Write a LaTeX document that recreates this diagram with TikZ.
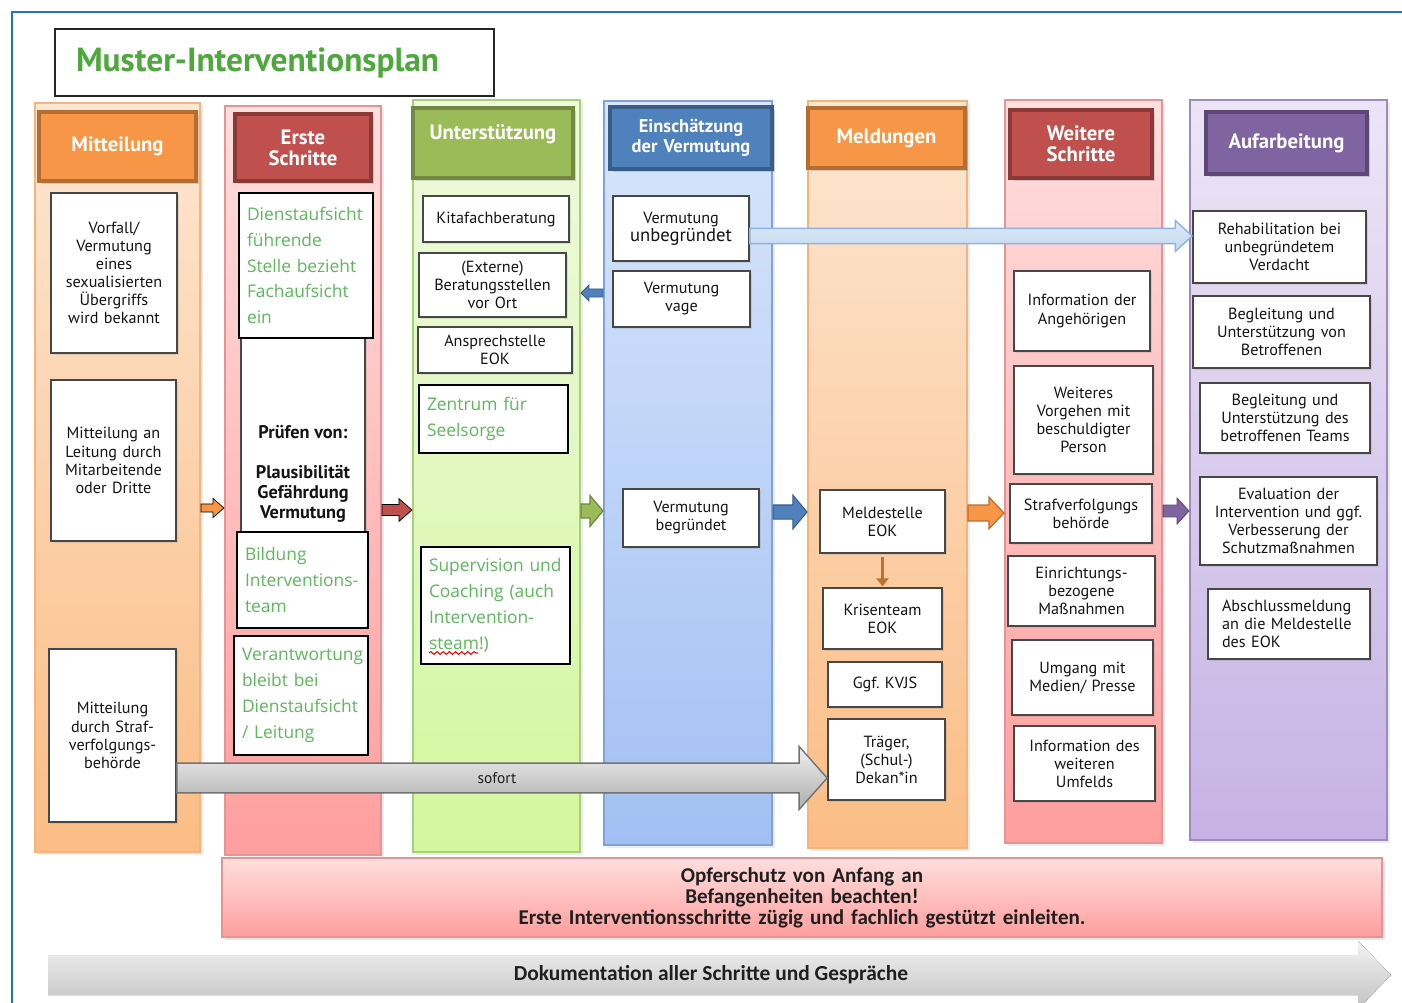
\documentclass[tikz,border=0pt]{standalone}
\usepackage{fontspec}
\setmainfont{PT Sans}
\newfontfamily\greenf{Open Sans}
\newfontfamily\calf{Carlito}
\usetikzlibrary{calc,shadows,decorations.pathmorphing,arrows.meta}

\definecolor{orH}{HTML}{F79646}\definecolor{orB}{HTML}{B66D31}
\definecolor{rdH}{HTML}{C0504D}\definecolor{rdB}{HTML}{8C3836}
\definecolor{gnH}{HTML}{9BBB59}\definecolor{gnB}{HTML}{71893F}
\definecolor{blH}{HTML}{4F81BD}\definecolor{blB}{HTML}{385D8A}
\definecolor{puH}{HTML}{8064A2}\definecolor{puB}{HTML}{5C4776}
\definecolor{orT}{HTML}{FDE6D2}\definecolor{orL}{HTML}{FBBD85}\definecolor{orD}{HTML}{F6B37C}
\definecolor{pkT}{HTML}{FFDEDE}\definecolor{pkL}{HTML}{FF9E9E}\definecolor{pkD}{HTML}{E49494}
\definecolor{gnT}{HTML}{EFF9DF}\definecolor{gnL}{HTML}{D3F79E}\definecolor{gnD}{HTML}{A9CF7A}
\definecolor{blT}{HTML}{D9E6FB}\definecolor{blL}{HTML}{A2C0F4}\definecolor{blD}{HTML}{7FA3D8}
\definecolor{puT}{HTML}{ECE5F6}\definecolor{puL}{HTML}{C6B2E4}\definecolor{puD}{HTML}{9E8BBE}
\definecolor{txtgreen}{HTML}{5DB85B}\definecolor{titlegreen}{HTML}{4EA83E}
\definecolor{frameblue}{HTML}{2472C4}
\definecolor{lbF}{HTML}{C6D9F1}\definecolor{lbT}{HTML}{DDE8F7}\definecolor{lbD}{HTML}{8EB4E3}

\def\insetcm{0.08}
\newcommand\mkbox[7][]{%
 \pgfmathsetmacro\mbw{(#5-#3)*0.02}%
 \pgfmathsetmacro\mbh{(#6-#4)*0.02}%
 \pgfmathsetmacro\mtw{(#5-#3)*0.02-2*\insetcm}%
 \node[minimum width=\mbw cm,minimum height=\mbh cm,text width=\mtw cm,
   inner xsep=\insetcm cm,inner ysep=0pt,#1] (#2) at ({(#3+#5)/2},{(#4+#6)/2}) {#7};}

% block arrow: style, from, to, half shaft, half head, head length (signed)
\newcommand\blockarrow[6]{%
 \draw[#1] let \p1=(#2), \p2=(#3) in
  ({\x1},{\y1+#4}) -- ({\x2-(#6)},{\y1+#4}) -- ({\x2-(#6)},{\y1+#5}) -- ({\x2},{\y1})
  -- ({\x2-(#6)},{\y1-#5}) -- ({\x2-(#6)},{\y1-#4}) -- ({\x1},{\y1-#4}) -- cycle;}

\begin{document}
\begin{tikzpicture}[x=0.02cm,y=-0.02cm,
  lane/.style args={#1/#2/#3}{top color=#1,bottom color=#2,draw=#3,line width=1.2pt,
     drop shadow={opacity=0.15,shadow xshift=1.5pt,shadow yshift=-1.5pt}},
  hdr/.style args={#1/#2}{fill=#1,draw=#2,line width=2pt,text=white,align=center,
     font=\bfseries\fontsize{11.8}{12}\selectfont,
     drop shadow={opacity=0.3,shadow xshift=1.5pt,shadow yshift=-1.5pt}},
  wbox/.style={fill=white,draw=black!72,line width=1pt,align=center,text=black!92,
     font=\fontsize{9.2}{10.3}\selectfont,
     drop shadow={opacity=0.2,shadow xshift=1pt,shadow yshift=-1pt}},
  gbox/.style={fill=white,draw=black,line width=1.4pt,align=left,text=txtgreen,
     font=\greenf\fontsize{9.9}{14.7}\selectfont},
  titlebox/.style={fill=white,draw=black!85,line width=1pt,align=left,text=titlegreen,
     font=\bfseries\fontsize{19}{22}\selectfont},
  opferbox/.style={top color=pkT,bottom color=pkL,draw=pkD,line width=1pt,align=center,
     font=\calf\bfseries\fontsize{12}{11.9}\selectfont,text=black!88,
     drop shadow={opacity=0.2,shadow xshift=1.5pt,shadow yshift=-1.5pt}}
]
\useasboundingbox (0,0) rectangle (1402,1003);
\clip (0,0) rectangle (1402,1003);
\fill[white] (0,0) rectangle (1402,1003);

% frame
\draw[frameblue,line width=1.3pt] (12,1003) -- (12,12) -- (1402,12);

% title
\mkbox[titlebox,text width=7.94cm]{title}{55}{29}{494}{96}{Muster-Interventionsplan}

% lanes
\mkbox[lane=orT/orL/orD]{lane1}{35}{103}{200}{852}{}
\mkbox[lane=pkT/pkL/pkD]{lane2}{225}{106}{381}{855}{}
\mkbox[lane=gnT/gnL/gnD]{lane3}{413}{100}{580}{852}{}
\mkbox[lane=blT/blL/blD]{lane4}{604}{101}{772}{845}{}
\mkbox[lane=orT/orL/orD]{lane5}{808}{101}{967}{848}{}
\mkbox[lane=pkT/pkL/pkD]{lane6}{1005}{100}{1162}{843}{}
\mkbox[lane=puT/puL/puD]{lane7}{1190}{100}{1387}{840}{}

% headers
\mkbox[hdr=orH/orB]{h1}{39}{112}{196}{181}{Mitteilung}
\mkbox[hdr=rdH/rdB]{h2}{235}{114}{371}{181}{Erste\\Schritte}
\mkbox[hdr=gnH/gnB]{h3}{413}{108}{573}{178}{Unterstützung\\\mbox{}}
\mkbox[hdr=blH/blB,font=\bfseries\fontsize{10.5}{11.6}\selectfont]{h4}{610}{107}{772}{169}{Einschätzung\\der Vermutung}
\mkbox[hdr=orH/orB]{h5}{808}{108}{965}{168}{Meldungen}
\mkbox[hdr=rdH/rdB]{h6}{1010}{110}{1152}{178}{Weitere\\Schritte}
\mkbox[hdr=puH/puB]{h7}{1206}{112}{1367}{174}{Aufarbeitung}

% column 1
\mkbox[wbox]{vorfall}{51}{193}{177}{353}{Vorfall/\\Vermutung\\eines\\sexualisierten\\Übergriffs\\wird bekannt}
\mkbox[wbox]{mitLeit}{51}{380}{176}{541}{Mitteilung an\\Leitung durch\\Mitarbeitende\\oder Dritte}
\mkbox[wbox]{strafM}{49}{649}{176}{822}{Mitteilung\\durch Straf-\\verfolgungs-\\behörde}

% column 2
\mkbox[wbox]{pruef}{241}{330}{365}{532}{}
\node[font=\bfseries\fontsize{10.4}{11.3}\selectfont,align=center,text=black!92] (pruefT) at (303,474)
  {Prüfen von:\\[11.3pt]Plausibilität\\Gefährdung\\Vermutung};
\def\insetcm{0.16}
\mkbox[gbox]{dienst}{239}{193}{373}{338}{Dienstaufsicht\\führende\\Stelle bezieht\\Fachaufsicht\\ein}
\mkbox[gbox]{bildung}{237}{532}{368}{628}{Bildung\\Interventions-\\team}
\mkbox[gbox]{verant}{234}{636}{368}{755}{Verantwortung\\bleibt bei\\Dienstaufsicht\\/ Leitung}
\def\insetcm{0.08}

% column 3
\mkbox[wbox]{kita}{423}{196}{569}{242}{Kitafachberatung}
\mkbox[wbox]{extern}{419}{253}{566}{317}{(Externe)\\Beratungsstellen\\vor Ort}
\mkbox[wbox]{anspr}{418}{327}{572}{373}{Ansprechstelle\\EOK}
\def\insetcm{0.16}
\mkbox[gbox]{zentrum}{419}{385}{568}{453}{Zentrum für\\Seelsorge}
\mkbox[gbox]{superv}{421}{547}{570}{664}{Supervision und\\Coaching (auch\\Intervention-\\steam!)}
\def\insetcm{0.08}
\draw[red,line width=0.6pt,decorate,decoration={snake,amplitude=0.8pt,segment length=3.5pt}]
  (429,653) -- (478,653);

% column 4
\mkbox[wbox]{unbeg}{613}{196}{749}{261}{Vermutung\\{\fontsize{10.6}{12}\selectfont unbegründet}}
\mkbox[wbox]{vage}{613}{271}{750}{327}{Vermutung\\vage}
\mkbox[wbox]{begr}{623}{489}{759}{547}{Vermutung\\begründet}

% column 5
\mkbox[wbox]{meld}{820}{490}{945}{553}{Meldestelle\\EOK}
\mkbox[wbox]{krise}{823}{588}{942}{649}{Krisenteam\\EOK}
\mkbox[wbox]{kvjs}{828}{662}{942}{707}{Ggf.\ KVJS}
\mkbox[wbox]{traeger}{828}{719}{945}{800}{Träger,\\(Schul-)\\Dekan*in}

% column 6
\mkbox[wbox]{angeh}{1014}{271}{1150}{351}{Information der\\Angehörigen}
\mkbox[wbox]{weiteres}{1014}{366}{1153}{474}{Weiteres\\Vorgehen mit\\beschuldigter\\Person}
\mkbox[wbox]{strafB}{1010}{484}{1152}{543}{Strafverfolgungs\\behörde}
\mkbox[wbox]{einr}{1008}{556}{1155}{626}{Einrichtungs-\\bezogene\\Maßnahmen}
\mkbox[wbox]{medien}{1012}{640}{1153}{715}{Umgang mit\\Medien/ Presse}
\mkbox[wbox]{umfeld}{1014}{726}{1155}{801}{Information des\\weiteren\\Umfelds}

% column 7
\mkbox[wbox]{rehab}{1193}{211}{1366}{283}{Rehabilitation bei\\unbegründetem\\Verdacht}
\mkbox[wbox]{betr}{1193}{296}{1370}{368}{Begleitung und\\Unterstützung von\\Betroffenen}
\mkbox[wbox]{team}{1200}{383}{1370}{453}{Begleitung und\\Unterstützung des\\betroffenen Teams}
\mkbox[wbox]{eval}{1200}{477}{1377}{565}{Evaluation der\\Intervention und ggf.\\Verbesserung der\\Schutzmaßnahmen}
\mkbox[wbox,align=left,text width=2.68cm]{abschl}{1208}{589}{1370}{659}{Abschlussmeldung\\an die Meldestelle\\des EOK}

% row coordinates for connectors
\coordinate (yA1) at (0,508);
\coordinate (yA2) at (0,510);
\coordinate (yA3) at (0,511);
\coordinate (yA4) at (0,512);
\coordinate (yA5) at (0,513);
\coordinate (yA6) at (0,511);
\coordinate (yV) at (0,293);
\coordinate (yLB) at (0,236);
\coordinate (ySof) at (0,778);

% connectors between lanes
\blockarrow{fill=orH}{lane1.east |- yA1}{lane2.west |- yA1}{2.3pt}{5.4pt}{6.2pt}
\blockarrow{fill=rdH}{lane2.east |- yA2}{lane3.west |- yA2}{3.1pt}{6.5pt}{7.4pt}
\blockarrow{fill=gnH,draw=gnB,line width=0.7pt}{lane3.east |- yA3}{lane4.west |- yA3}{4pt}{8.8pt}{7.4pt}
\blockarrow{fill=blH,draw=blB,line width=0.6pt}{lane4.east |- yA4}{lane5.west |- yA4}{4pt}{9.6pt}{8pt}
\blockarrow{fill=orH,draw=orB,line width=0.7pt}{lane5.east |- yA5}{lane6.west |- yA5}{4.5pt}{9pt}{8.5pt}
\blockarrow{fill=puH,draw=puB,line width=0.5pt}{lane6.east |- yA6}{lane7.west |- yA6}{3.4pt}{7.4pt}{6.8pt}
\blockarrow{fill=blH,draw=blB,line width=0.5pt}{lane4.west |- yV}{lane3.east |- yV}{2.3pt}{4.5pt}{-4.5pt}

% light blue arrow: unbegründet -> Rehabilitation
\blockarrow{top color=lbT,bottom color=lbF,draw=lbD,line width=0.8pt}{unbeg.east |- yLB}{rehab.west |- yLB}{4.3pt}{8.8pt}{9.6pt}

% Meldestelle -> Krisenteam
\draw[-{Triangle[width=7pt,length=4.5pt]},line width=2.2pt,color={rgb,255:red,190;green,112;blue,50},
  shorten <=2pt,shorten >=0.5pt] (meld.south) -- (krise.north);

% sofort arrow
\blockarrow{top color=black!6,bottom color=black!32,draw=black!55,line width=0.8pt}{strafM.east |- ySof}{traeger.west |- ySof}{8.5pt}{17.9pt}{15.9pt}
\node[font=\fontsize{8.8}{10}\selectfont,text=black!88] (sofortT) at (497,778) {sofort};

% bottom pink box
\mkbox[opferbox]{opfer}{222}{858}{1382}{937}{Opferschutz von Anfang an\\Befangenheiten beachten!\\Erste Interventionsschritte zügig und fachlich gestützt einleiten.}

% documentation arrow
\fill[top color=black!5,bottom color=black!24] (48,955) -- (1358,955) -- (1358,941) -- (1391,975)
  -- (1358,1009) -- (1358,995) -- (48,995) -- cycle;
\node[font=\calf\bfseries\fontsize{12.2}{13}\selectfont,text=black!88] (doku) at (711,975)
  {Dokumentation aller Schritte und Gespräche};
\end{tikzpicture}
\end{document}
